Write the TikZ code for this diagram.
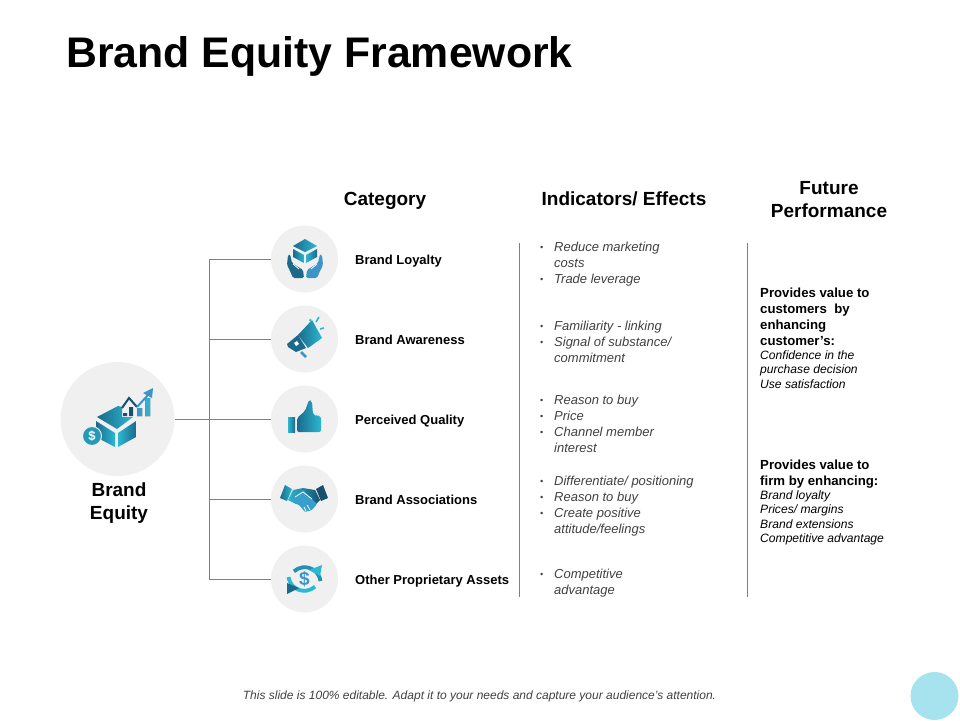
\documentclass[tikz,border=0pt]{standalone}
\usepackage{fontspec}
\setmainfont{Liberation Sans}
\definecolor{icoDark}{HTML}{1B6A8C}
\definecolor{icoLight}{HTML}{2BB8D2}
\definecolor{icoBlue}{HTML}{3C94C8}
\definecolor{icoNavy}{HTML}{17506F}
\definecolor{discGray}{HTML}{F0F0F0}
\definecolor{lineGray}{HTML}{7F7F7F}
\definecolor{textGray}{HTML}{404040}
\definecolor{cornerBlue}{HTML}{A6E3EF}
\newcommand{\bul}{\strut\llap{\makebox[14pt][l]{\raisebox{0.8pt}{\fontsize{9}{9}\selectfont\textbullet}}}}
\tikzset{
  disc/.style={circle,fill=discGray,inner sep=0pt,minimum size=67pt},
  conn/.style={draw=lineGray,line width=0.8pt},
  rowlabel/.style={anchor=base west,inner sep=0pt,font=\fontsize{13}{16}\selectfont\bfseries},
  heading/.style={align=center,inner sep=0pt,font=\fontsize{19}{23}\selectfont\bfseries},
  effects/.style={anchor=north west,inner sep=0pt,align=left,text=textGray,font=\fontsize{13}{16}\selectfont\itshape},
  valuehead/.style={anchor=north west,inner sep=0pt,align=left,font=\fontsize{13.2}{16}\selectfont\bfseries},
  valuebody/.style={anchor=north west,inner sep=0pt,align=left,font=\fontsize{12.1}{14.3}\selectfont\itshape},
  ico/.style={left color=icoDark,right color=icoLight,draw=none},
  icor/.style={left color=icoLight,right color=icoDark,draw=none},
  icob/.style={left color=icoBlue,right color=icoLight,draw=none}
}
\begin{document}
\begin{tikzpicture}[x=1pt,y=-1pt]
  \useasboundingbox (0,0) rectangle (960,720);
  \node[anchor=base west,inner sep=0pt,font=\fontsize{42.8}{48}\selectfont\bfseries] (title) at (66,67) {Brand Equity Framework};

  % discs
  \node[disc,minimum size=114pt] (hub) at (117.5,419) {};
  \node[disc] (loyalty) at (304.5,259) {};
  \node[disc] (awareness) at (304.5,339) {};
  \node[disc] (quality) at (304.5,419) {};
  \node[disc] (associations) at (304.5,499) {};
  \node[disc] (assets) at (304.5,579) {};

  % connectors
  \coordinate (trunk) at (209,419);
  \draw[conn] (hub) -- (quality);
  \draw[conn] (loyalty) -| (trunk);
  \draw[conn] (assets) -| (trunk);
  \draw[conn] (awareness.west) -- (awareness.west -| trunk);
  \draw[conn] (associations.west) -- (associations.west -| trunk);
  \coordinate (ruleA) at (519.5,243);
  \coordinate (ruleAend) at (519.5,597);
  \coordinate (ruleB) at (747.5,243);
  \coordinate (ruleBend) at (747.5,597);
  \draw[conn] (ruleA) -- (ruleAend);
  \draw[conn] (ruleB) -- (ruleBend);

  % headings
  \node[heading,anchor=base] (catHead) at (385,205) {Category};
  \node[heading,anchor=base] (effHead) at (624,205) {Indicators/ Effects};
  \node[heading] (futHead) at (829,199.5) {Future\\Performance};
  \node[heading] (hubLabel) at (119,503) {Brand\\Equity};

  % rows
  \node[rowlabel] (lblLoyalty) at (355,264) {Brand Loyalty};
  \node[rowlabel] (lblAwareness) at (355,344) {Brand Awareness};
  \node[rowlabel] (lblQuality) at (355,424) {Perceived Quality};
  \node[rowlabel] (lblAssoc) at (355,504) {Brand Associations};
  \node[rowlabel] (lblAssets) at (355,584) {Other Proprietary Assets};

  \node[effects] (effLoyalty) at (554,240) {\bul Reduce marketing\\costs\\\bul Trade leverage};
  \node[effects] (effAwareness) at (554,319) {\bul Familiarity - linking\\\bul Signal of substance/\\commitment};
  \node[effects] (effQuality) at (554,393) {\bul Reason to buy\\\bul Price\\\bul Channel member\\interest};
  \node[effects] (effAssoc) at (554,474) {\bul Differentiate/ positioning\\\bul Reason to buy\\\bul Create positive\\attitude/feelings};
  \node[effects] (effAssets) at (554,567) {\bul Competitive\\advantage};

  \node[valuehead] (custHead) at (760,288) {Provides value to\\customers\ \ by\\enhancing\\customer's:};
  \node[valuebody] (custBody) at (760,350.5) {Confidence in the\\purchase decision\\Use satisfaction};
  \node[valuehead] (firmHead) at (760,460) {Provides value to\\firm by enhancing:};
  \node[valuebody] (firmBody) at (760,490.5) {Brand loyalty\\Prices/ margins\\Brand extensions\\Competitive advantage};

  \node[inner sep=0pt,text=textGray,font=\fontsize{12}{14}\selectfont\itshape] (footer) at (479.5,696) {This slide is 100\% editable. Adapt it to your needs and capture your audience's attention.};
  \node[circle,fill=cornerBlue,inner sep=0pt,minimum size=48pt] (corner) at (934.5,696) {};

  % hub icon
  \path[ico] (97,417) -- (118,406) -- (122,407) -- (122,417) -- (133,417) -- (117,429) -- cycle;
  \path[ico] (96,421) -- (115,433) -- (115,447) -- (96,437) -- cycle;
  \path[icor] (118,433) -- (136,421) -- (136,437) -- (118,447) -- cycle;
  \fill[icoNavy] (123,413) rectangle (127,416) (129,407) rectangle (133,416);
  \fill[icob] (137,408) rectangle (142,416) (145,398) rectangle (150,416);
  \draw[icoNavy,line width=2pt] (122,408) -- (129,398) -- (137,407);
  \draw[icoBlue,line width=2pt] (137,407) -- (148,395);
  \fill[icoBlue] (143,393) -- (153,388) -- (152,398) -- cycle;
  \node[circle,fill=icoDark!40!icoLight,draw=discGray,line width=1pt,inner sep=0pt,minimum size=19pt,text=white,font=\fontsize{13}{13}\selectfont\bfseries] (coin) at (92,436) {\$};

  % loyalty icon
  \path[ico] (305,239) -- (317,246) -- (305,252) -- (293,246) -- cycle;
  \path[ico] (293,249) -- (304,255) -- (304,263) -- (293,257) -- cycle;
  \path[icor] (306,255) -- (317,249) -- (317,257) -- (306,263) -- cycle;
  \path[fill=icoDark,rounded corners=1.5pt] (288,255) -- (290,254) -- (292,263) -- (303,270) -- (304,278) -- (293,278) -- (290,271) -- (287,265) -- cycle;
  \path[fill=icoBlue,rounded corners=1.5pt] (322,255) -- (320,254) -- (318,263) -- (307,270) -- (306,278) -- (317,278) -- (320,271) -- (323,265) -- cycle;
  \draw[white,line width=0.8pt] (293,264) -- (299,269) (317,264) -- (311,269);

  % awareness icon
  \path[ico] (312,320) -- (322,338) -- (308,348) -- (298,335) -- cycle;
  \fill[icoDark] (298,335) -- (306,348) -- (296,352) -- (288,347) -- (287,344) -- cycle;
  \fill[white] (294,343) -- (297,341) -- (299,344) -- (296,346) -- cycle;
  \draw[icoBlue,line width=2.5pt] (301,352) -- (306,357);
  \draw[icoLight,line width=1.6pt] (310,321) -- (310.5,319) (316,322) -- (319,317) (320,329) -- (324,328);

  % quality icon
  \path[icor] (288,417) rectangle (295,432);
  \path[ico,rounded corners=2pt] (297,418) -- (305,411) -- (309,400) -- (312,401) -- (313,415) -- (321,416) -- (321,432) -- (297,432) -- cycle;

  % associations icon
  \path[ico] (280,498) -- (285,485) -- (292,489) -- (287,501) -- cycle;
  \fill[icoNavy] (328,498) -- (323,485) -- (316,489) -- (321,501) -- cycle;
  \path[left color=icoLight,right color=icoNavy] (293,490) -- (303,488) -- (315,490) -- (320,500) -- (314,506) -- (296,504) -- (288,500) -- cycle;
  \path[fill=icoBlue!70!icoLight,rounded corners=1pt] (293,501) -- (300,506) -- (305,512) -- (312,510) -- (317,504) -- (310,497) -- (303,490) -- (294,497) -- cycle;
  \draw[white,line width=0.7pt] (295,497) -- (303,492) -- (312,499) (306,511) -- (304,507) (310,510) -- (307,505);

  % assets icon
  \draw[icoLight,line width=3.8pt] (288.5,577) arc (172:48:16);
  \draw[icoDark!50!icoLight,line width=3.8pt] (320.5,581) arc (-8:-132:16);
  \fill[icoLight] (322,565) -- (320,576) -- (309,570) -- cycle;
  \fill[icoDark] (287,583) -- (287,594) -- (299,588) -- cycle;
  \node[inner sep=0pt,text=icoBlue,font=\fontsize{19}{19}\selectfont\bfseries] (dollar) at (304.5,579) {\$};
\end{tikzpicture}
\end{document}
